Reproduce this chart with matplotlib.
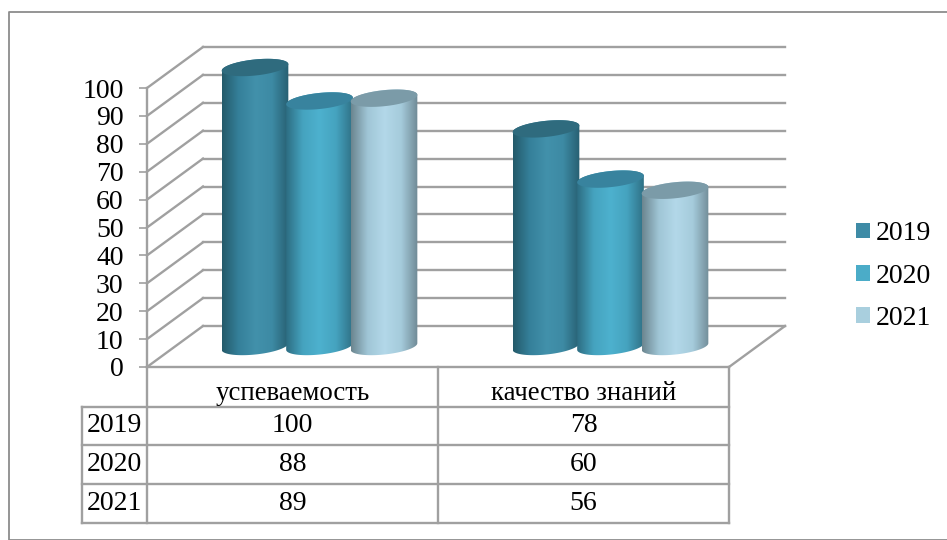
import numpy as np
import matplotlib
matplotlib.use("Agg")
import matplotlib.pyplot as plt
from matplotlib.colors import LinearSegmentedColormap
from matplotlib.lines import Line2D
from matplotlib.patches import Patch, Polygon

plt.rcParams["font.family"] = ["Liberation Serif", "DejaVu Serif"]

categories = ["успеваемость", "качество знаний"]
years = ["2019", "2020", "2021"]
values_2019 = [100, 78]
values_2020 = [88, 60]
values_2021 = [89, 56]
all_values = [values_2019, values_2020, values_2021]
y_ticks = list(range(0, 101, 10))

legend_colors = ["#3e8ba6", "#4bacc8", "#a9cfde"]
top_colors = ["#2f6b7e", "#38839e", "#7b9ba8"]
body_stops = [
    ["#245a6a", "#35809a", "#4291ab", "#3d8aa4", "#275f71"],
    ["#2d6d82", "#45a3bf", "#4db1ce", "#45a3bf", "#2f7085"],
    ["#6b858f", "#a0c6d6", "#b3d8e9", "#a5cbdb", "#6f8995"],
]

GRID = "#a0a0a0"
W, H = 947, 540
LEFT, RIGHT, FLOOR, TOP_100 = 147, 729, 367, 88
FS = 20

fig = plt.figure(figsize=(W / 100, H / 100), dpi=100, facecolor="white")
ax = fig.add_axes([LEFT / W, 1 - FLOOR / H, (RIGHT - LEFT) / W, (FLOOR - TOP_100) / H])
ax.set_xlim(0, len(categories))
ax.set_ylim(0, 100)
ax.patch.set_visible(False)

# size of one pixel in data units
px_x = len(categories) / (RIGHT - LEFT)
px_y = 100 / (FLOOR - TOP_100)
depth_x = 56 * px_x
depth_y = 41 * px_y


def line(xs, ys, lw=1.7, zorder=1):
    ax.plot(xs, ys, color=GRID, lw=lw, clip_on=False, solid_capstyle="projecting", zorder=zorder)


# walls and floor
for v in y_ticks:
    line([0, depth_x], [v, v + depth_y])
    line([depth_x, 2 + depth_x], [v + depth_y, v + depth_y])
line([2, 2 + depth_x], [0, depth_y])

ax.set_yticks(y_ticks)
ax.set_xticks([])
ax.tick_params(axis="y", length=5.8, width=1.2, color=GRID, pad=11, labelsize=FS)
for side in ["top", "right", "bottom"]:
    ax.spines[side].set_visible(False)
ax.spines["left"].set_color(GRID)
ax.spines["left"].set_linewidth(1.7)

# cylinders
half_w = 33.5
ell_b = 8.0
tilt = np.deg2rad(6)
step = 64.5
t0 = np.arctan(-(ell_b / half_w) * np.tan(tilt))


def rim(t):
    # tilted ellipse around the origin, in pixels
    ex = half_w * np.cos(t) * np.cos(tilt) - ell_b * np.sin(t) * np.sin(tilt)
    ey = half_w * np.cos(t) * np.sin(tilt) + ell_b * np.sin(t) * np.cos(tilt)
    return ex * px_x, ey * px_y


upper = np.linspace(t0, t0 + np.pi, 80)
lower = np.linspace(t0 + np.pi, t0 + 2 * np.pi, 80)
whole = np.linspace(0, 2 * np.pi, 160)

for s, series in enumerate(all_values):
    cmap = LinearSegmentedColormap.from_list(years[s], body_stops[s])
    for c, v in enumerate(series):
        cx = c + 0.5 + (s - 1) * step * px_x + depth_x / 2 - 1 * px_x
        base = depth_y / 2
        top = v + base
        ux, uy = rim(upper)
        lx, ly = rim(lower)
        body = Polygon(np.r_[np.c_[cx + ux, top + uy], np.c_[cx + lx, base + ly]], closed=True,
                       fc="none", ec="none", clip_on=False)
        ax.add_patch(body)
        grad = np.linspace(0, 1, 256).reshape(1, -1)
        im = ax.imshow(grad, cmap=cmap, aspect="auto", zorder=2 + s * 0.1 + c,
                       extent=[cx - half_w * px_x, cx + half_w * px_x,
                               base - 15 * px_y, top + 15 * px_y])
        im.set_clip_path(body)
        im.set_clip_box(fig.bbox)
        wx, wy = rim(whole)
        cap = Polygon(np.c_[cx + wx, top + wy], closed=True, fc=top_colors[s], ec="none",
                      clip_on=False, zorder=2.05 + s * 0.1 + c)
        ax.add_patch(cap)

ax.set_xlim(0, len(categories))
ax.set_ylim(0, 100)

# data table under the plot, rows measured down from the floor line
row_h = 38.7
head_h = 39.5
label_w = 65.5


def row_y(n):
    return -(head_h + n * row_h) * px_y


line([0, 2], [0, 0])
for n in range(len(years) + 1):
    line([-label_w * px_x, 2], [row_y(n), row_y(n)])
line([-label_w * px_x, -label_w * px_x], [row_y(0), row_y(3)])
for x in range(len(categories) + 1):
    line([x, x], [0, row_y(3)])

for c, name in enumerate(categories):
    ax.text(c + 0.5, row_y(0) + 1 * px_y, name, ha="center", va="bottom", fontsize=FS - 0.6, clip_on=False)
for n, year in enumerate(years):
    mid = (row_y(n) + row_y(n + 1)) / 2
    ax.text(-label_w * px_x / 2, mid, year, ha="center", va="center", fontsize=FS)
    for c in range(len(categories)):
        ax.text(c + 0.5, mid, str(all_values[n][c]), ha="center", va="center", fontsize=FS)

# legend
handles = [Patch(fc=col, ec="none") for col in legend_colors]
fig.legend(handles, years, loc="center left", bbox_to_anchor=(856 / W, 1 - 276 / H),
           frameon=False, fontsize=FS, borderpad=0, borderaxespad=0, labelspacing=0.62,
           handlelength=0.5, handleheight=0.5, handletextpad=0.22)

# outer frame: left, top and bottom edges only show in the picture
frame_x = [947 / W, 9 / W, 9 / W, 947 / W]
frame_y = [1 - 539.5 / H, 1 - 539.5 / H, 1 - 12 / H, 1 - 12 / H]
fig.add_artist(Line2D(frame_x, frame_y, transform=fig.transFigure, color="#8c8c8c", lw=1.3))

fig.savefig("out.png", dpi=100)
